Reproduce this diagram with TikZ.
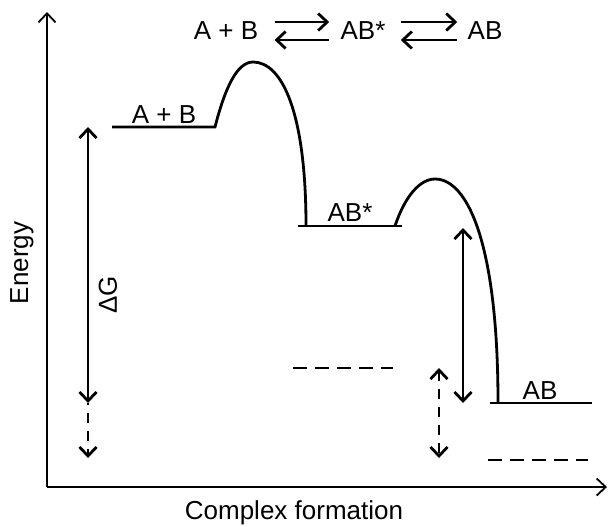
\documentclass[tikz,border=0pt]{standalone}
\usepackage{fontspec}
\setmainfont{Liberation Sans}
\usetikzlibrary{arrows.meta}

\begin{document}
\begin{tikzpicture}[x=0.5pt,y=-0.5pt,
  >={Straight Barb[length=4.5pt,width=8.5pt]},
  every node/.style={font=\fontsize{13}{15}\selectfont, inner sep=0pt},
  curve/.style={line width=1.4pt},
  dashline/.style={line width=1.4pt, dash pattern=on 7pt off 4pt},
  dasharrow/.style={line width=1.4pt, dash pattern=on 5pt off 4pt}]
\useasboundingbox (0,0) rectangle (609,526);

% axes
\coordinate (origin) at (47,487);
\coordinate (ytop) at (47,12);
\coordinate (xend) at (607,487);
\draw[line width=0.9pt,->] (origin) -- (ytop);
\draw[line width=0.9pt,->] (origin) -- (xend);
\node[rotate=90] (energy) at (22,263) {Energy};
\node (complex) at (294,513) {Complex formation};

% reaction scheme
\node (eqAB) at (226,31) {A + B};
\node (eqABs) at (363,31) {AB*};
\node (eqP) at (485,31) {AB};
\draw[curve,->] ([shift={(8pt,4.5pt)}]eqAB.east) -- ([shift={(-5.5pt,4.5pt)}]eqABs.west);
\draw[curve,->] ([shift={(-5.5pt,-4.5pt)}]eqABs.west) -- ([shift={(8pt,-4.5pt)}]eqAB.east);
\draw[curve,->] ([shift={(7.5pt,4.5pt)}]eqABs.east) -- ([shift={(-5pt,4.5pt)}]eqP.west);
\draw[curve,->] ([shift={(-5pt,-4.5pt)}]eqP.west) -- ([shift={(7.5pt,-4.5pt)}]eqABs.east);

% energy profile
\coordinate (r1) at (112,127);
\coordinate (r2) at (215,127);
\coordinate (i1) at (298,226);
\coordinate (i2) at (402,226);
\coordinate (p1) at (490,403);
\coordinate (p2) at (592,403);
\draw[curve] (r1) -- (r2) .. controls (225,88) and (237,62) .. (253,62)
  .. controls (282,62) and (306,112) .. (306,226);
\draw[curve] (i1) -- (i2);
\draw[curve] (395,226) .. controls (405,196) and (420,179) .. (435,179)
  .. controls (468,179) and (498,245) .. (498,403);
\draw[curve] (p1) -- (p2);
\node (lAB) at (164,115) {A + B};
\node (lABs) at (350,213) {AB*};
\node (lP) at (540,391) {AB};

% alternative levels
\coordinate (d1) at (293,368);
\coordinate (d2) at (393,368);
\coordinate (d3) at (488,460);
\coordinate (d4) at (588,460);
\draw[dashline] (d1) -- (d2);
\draw[dashline] (d3) -- (d4);

% free energy differences
\coordinate (gtop) at (88,127);
\coordinate (gbot) at (88,403);
\coordinate (gend) at (88,458);
\draw[curve,<->] (gtop) -- (gbot);
\draw[dasharrow,dash phase=-5pt,->] (gbot) -- (gend);
\node[rotate=90] (dG) at (108,295) {ΔG};
\coordinate (htop) at (463,228);
\coordinate (hbot) at (463,403);
\draw[curve,<->] (htop) -- (hbot);
\coordinate (ktop) at (439,368);
\coordinate (kbot) at (439,458);
\draw[dasharrow,<->] (ktop) -- (kbot);
\end{tikzpicture}
\end{document}
